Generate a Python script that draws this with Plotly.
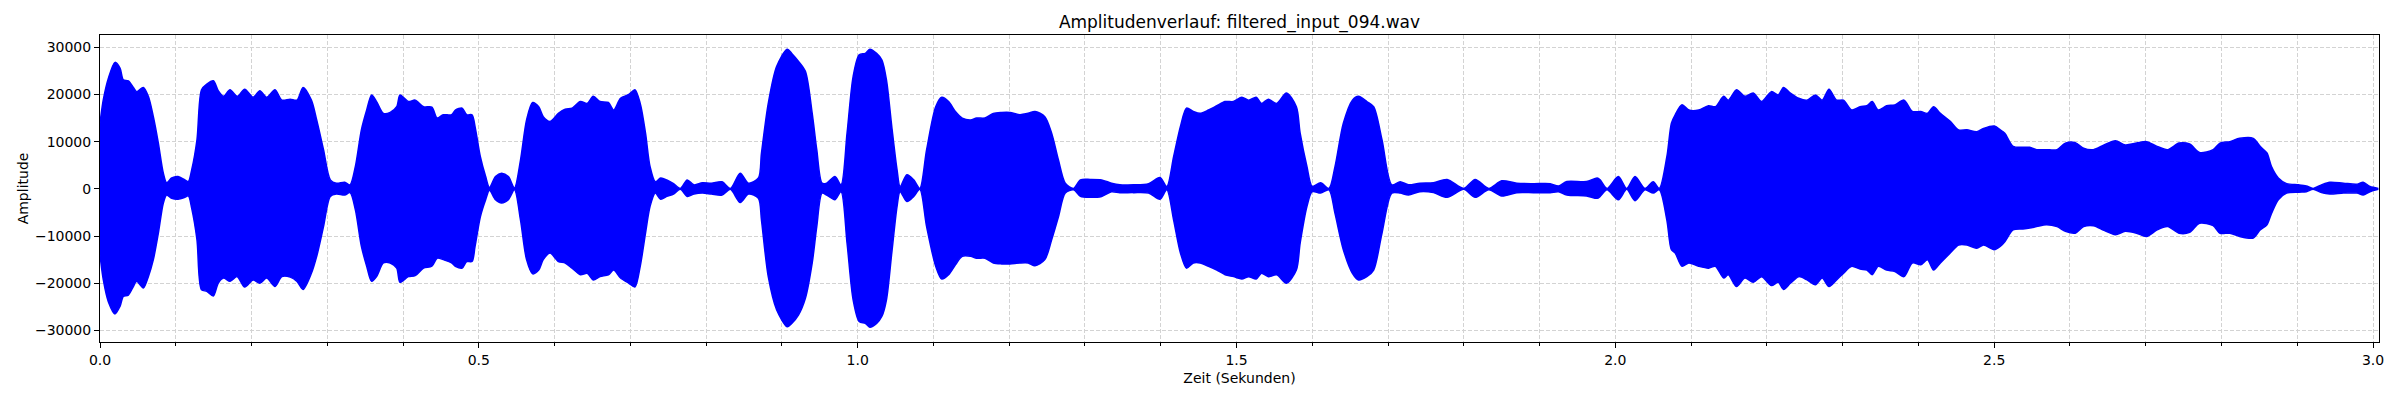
import plotly.graph_objects as go

# Huellkurve des Signals (Zeit in s, Amplitude oben / unten)
zeit_s = [
    0.000, 0.0044, 0.011, 0.0198, 0.0264, 0.0308, 0.0374, 0.044, 0.0484, 0.0572,
    0.0638, 0.0704, 0.077, 0.0836, 0.088, 0.0946, 0.103, 0.112, 0.1166, 0.121,
    0.128, 0.134, 0.141, 0.1496, 0.156, 0.163, 0.1716, 0.181, 0.191, 0.202,
    0.211, 0.220, 0.231, 0.240, 0.251, 0.260, 0.268, 0.279, 0.286, 0.295,
    0.304, 0.312, 0.323, 0.330, 0.337, 0.345, 0.352, 0.3585, 0.365, 0.374,
    0.383, 0.3916,
    0.396, 0.407, 0.416, 0.427, 0.438, 0.445, 0.453, 0.464, 0.469, 0.478,
    0.484, 0.491, 0.495, 0.502, 0.509, 0.514, 0.522, 0.530, 0.539, 0.547,
    0.555, 0.563, 0.571, 0.579, 0.585, 0.594, 0.605, 0.614, 0.623, 0.634,
    0.643, 0.651, 0.660, 0.671, 0.678, 0.687, 0.698, 0.706, 0.713, 0.720,
    0.726, 0.733, 0.740, 0.748, 0.757, 0.766, 0.775, 0.784, 0.795, 0.807,
    0.821, 0.832, 0.845, 0.856, 0.869, 0.873, 0.882, 0.893, 0.907, 0.913,
    0.922,
    0.931, 0.940, 0.946, 0.953, 0.959, 0.970, 0.978, 0.986, 0.994, 1.002,
    1.010, 1.016, 1.025, 1.032, 1.038, 1.045, 1.052, 1.056, 1.065, 1.074,
    1.082, 1.091, 1.103, 1.111, 1.120, 1.129, 1.138, 1.149, 1.157, 1.168,
    1.179, 1.190, 1.201, 1.214, 1.225, 1.234, 1.247, 1.256, 1.265, 1.274,
    1.285, 1.294, 1.307, 1.322, 1.335, 1.346, 1.364, 1.384, 1.399, 1.408,
    1.417, 1.426, 1.434, 1.443,
    1.452, 1.463, 1.474, 1.485, 1.496, 1.507, 1.516, 1.526, 1.533, 1.542,
    1.553, 1.566, 1.579, 1.584, 1.593, 1.600, 1.611, 1.622, 1.630, 1.641,
    1.653, 1.661, 1.672, 1.681, 1.692, 1.705, 1.716, 1.727, 1.742, 1.760,
    1.778, 1.800, 1.815, 1.833, 1.850, 1.870, 1.892, 1.914, 1.925, 1.936,
    1.962, 1.976,
    1.980, 1.989, 2.004, 2.015, 2.026, 2.039, 2.050, 2.058, 2.068, 2.074,
    2.079, 2.088, 2.097, 2.110, 2.123, 2.132, 2.143, 2.149, 2.160, 2.171,
    2.182, 2.193, 2.206, 2.215, 2.222, 2.231, 2.242, 2.253, 2.264, 2.273,
    2.282, 2.292, 2.301, 2.312, 2.323, 2.332, 2.339, 2.347, 2.358, 2.369,
    2.381, 2.392, 2.403, 2.412, 2.420, 2.429, 2.442, 2.453, 2.464, 2.477,
    2.486, 2.500,
    2.508, 2.514, 2.525, 2.538, 2.547, 2.556, 2.569, 2.583, 2.594, 2.607,
    2.618, 2.631, 2.645, 2.660, 2.673, 2.688, 2.701, 2.715, 2.729, 2.744,
    2.758, 2.771, 2.789, 2.798, 2.811, 2.824, 2.842, 2.851, 2.860, 2.866,
    2.875, 2.886, 2.902, 2.912, 2.921, 2.932, 2.943, 2.961, 2.979, 2.987,
    2.996, 3.007,
]

huelle_oben = [
    13900, 18900, 23400, 26800, 25600, 23100, 22900, 21500, 20600, 21500,
    19600, 15300, 9700, 3300, 1300, 2300, 2600, 1900, 1550, 4000,
    10400, 21000, 22200, 22900, 20800, 19600, 21000, 19600, 21100, 19400,
    20800, 19400, 21000, 18800, 19000, 18800, 21500, 18800, 14600, 8300,
    1900, 1200, 1400, 850, 4700, 12500, 16700, 19900, 18500, 16000,
    16200, 17400,
    19900, 18500, 18800, 17400, 17300, 15000, 15700, 15700, 16700, 17100,
    15700, 15700, 13200, 6800, 2600, 300, 2600, 3300, 2600, 200,
    6100, 14600, 18300, 17400, 15300, 14300, 16000, 16900, 17100, 18500,
    18100, 19600, 18500, 18300, 16700, 19200, 20000, 21000, 18100, 11800,
    4700, 1500, 2300, 1900, 1100, 100, 1900, 850, 1300, 1200,
    1500, 100, 3300, 1200, 2300, 7500, 18100, 25900, 29600, 28700,
    27000,
    24900, 16000, 8300, 1200, 1200, 2600, 850, 11800, 23800, 28400,
    28700, 29600, 28700, 27300, 23100, 13200, 4000, 500, 3000, 1900,
    100, 8300, 17400, 19400, 18500, 16400, 15000, 14600, 15000, 15000,
    16000, 16200, 16200, 15700, 16000, 16400, 15300, 11800, 6100, 1200,
    100, 1900, 2000, 1900, 1200, 850, 850, 1100, 2400, 500,
    6800, 13200, 17100, 16400,
    16000, 16700, 17600, 18500, 18500, 19400, 18800, 19400, 18100, 19000,
    18100, 20300, 17400, 11800, 4700, 500, 1300, 100, 4700, 13900,
    18800, 19600, 18500, 17400, 10400, 850, 1500, 850, 1200, 1300,
    2000, 100, 2000, 100, 1700, 1200, 1100, 1100, 600, 1550,
    1550, 2300,
    1900, 100, 2600, 100, 2600, 100, 1500, 100, 6800, 13900,
    15700, 17800, 16700, 16700, 17600, 17400, 19600, 18800, 21000, 19600,
    20300, 18500, 20600, 19900, 21500, 20300, 19200, 18800, 19900, 18800,
    21100, 18800, 18800, 16700, 17400, 17600, 18500, 16700, 17600, 17800,
    18800, 16400, 16400, 16000, 17400, 16000, 14300, 12500, 12500, 12100,
    12800, 13300,
    12500, 11800, 9000, 8800, 8800, 8300, 8300, 8300, 9700, 9800,
    8600, 8300, 9300, 10200, 9300, 9700, 10000, 9000, 8300, 9700,
    9500, 7700, 8300, 9700, 10000, 10700, 10700, 9000, 7600, 4700,
    2300, 1100, 850, 600, 100, 850, 1400, 1200, 1000, 1400,
    500, 100,
]

huelle_unten = [
    -14000, -19300, -23900, -26500, -24900, -22800, -22500, -20700, -19600, -21000,
    -18600, -15000, -9400, -3000, -1300, -2000, -2200, -1800, -1500, -4100,
    -10800, -21400, -21700, -22700, -20000, -18900, -19600, -18600, -20800, -19300,
    -20000, -18900, -20700, -18600, -18700, -19600, -21300, -17900, -14300, -8000,
    -1600, -1100, -1300, -800, -4400, -12200, -16400, -19600, -18600, -15700,
    -15700, -16800,
    -19800, -18600, -18400, -16800, -16400, -14700, -15000, -15700, -16400, -16800,
    -15400, -15400, -12200, -5900, -2300, -300, -2300, -3000, -2300, -200,
    -6600, -15000, -18000, -17200, -15000, -13600, -15400, -15700, -16800, -18200,
    -17900, -19300, -18600, -18200, -17200, -18900, -20000, -20800, -16400, -9400,
    -3700, -900, -2200, -1600, -1100, -100, -1600, -1100, -900, -1100,
    -1300, -100, -2900, -1100, -2000, -6600, -18600, -25600, -29200, -28500,
    -26700,
    -23200, -15700, -8000, -900, -1300, -2300, -600, -11500, -23500, -28100,
    -28500, -29300, -28500, -27000, -23500, -13600, -3700, -600, -2700, -1600,
    -100, -8000, -16400, -19100, -18200, -16100, -14300, -14300, -14700, -14700,
    -15700, -15900, -15900, -15700, -15700, -16300, -15000, -10800, -5900, -900,
    -200, -1600, -1800, -1600, -600, -800, -800, -900, -2200, -200,
    -6600, -13600, -16800, -15700,
    -15700, -16400, -17200, -18200, -18600, -19100, -18600, -19100, -17900, -18600,
    -18200, -20000, -17200, -11500, -3700, -600, -900, -200, -5200, -12900,
    -17900, -19300, -18600, -17200, -9400, -900, -900, -1300, -600, -800,
    -1800, -100, -1800, -200, -1500, -800, -800, -800, -600, -1300,
    -1500, -2000,
    -1600, -200, -2300, -100, -2500, -200, -900, -200, -6600, -12900,
    -13600, -16400, -15700, -16400, -16800, -16400, -18900, -18200, -20700, -18900,
    -19800, -18600, -20500, -19800, -21300, -20000, -18600, -19300, -20300, -18900,
    -20700, -19300, -17900, -16400, -17000, -17200, -18200, -16400, -17200, -17500,
    -18600, -15700, -16100, -15000, -17200, -15700, -13600, -11900, -11900, -12600,
    -11900, -12900,
    -12200, -11200, -8700, -8500, -8300, -8000, -7600, -8000, -9000, -9400,
    -8000, -7800, -8800, -9700, -9000, -9400, -10100, -8700, -8000, -9400,
    -9200, -7300, -7800, -9400, -9400, -10100, -10400, -8700, -7600, -5200,
    -2300, -900, -700, -600, -100, -800, -1100, -900, -900, -1300,
    -600, -100,
]

BLAU = "#0000ff"
SCHRIFT = "DejaVu Sans, sans-serif"
GRID = "#d3d3d3"

# die Seite hat 8px Rand im body, daher Figur etwas kleiner und Raender angepasst
BREITE, HOEHE = 2392, 392

fig = go.Figure()
fig.add_trace(go.Scatter(
    x=zeit_s, y=huelle_oben, mode="lines",
    line=dict(color=BLAU, width=1.5, shape="spline", smoothing=0.8),
    showlegend=False, hoverinfo="skip",
))
fig.add_trace(go.Scatter(
    x=zeit_s, y=huelle_unten, mode="lines",
    line=dict(color=BLAU, width=1.5, shape="spline", smoothing=0.8),
    fill="tonexty", fillcolor=BLAU,
    showlegend=False, hoverinfo="skip",
))

fig.update_layout(
    width=BREITE, height=HOEHE,
    paper_bgcolor="white", plot_bgcolor="white",
    margin=dict(l=92, r=21, t=27, b=58),
    font=dict(family=SCHRIFT, size=14, color="black"),
    title=dict(
        text="Amplitudenverlauf: filtered_input_094.wav",
        x=0.5, xref="paper", y=1 - 14 / HOEHE, yref="container",
        xanchor="center", yanchor="middle",
        font=dict(family=SCHRIFT, size=17, color="black"),
    ),
)

fig.update_xaxes(
    range=[0, 3.0079], tick0=0, dtick=0.5, tickformat=".1f",
    ticks="outside", ticklen=5, tickwidth=1, tickcolor="black",
    showline=True, mirror=True, linecolor="black", linewidth=1,
    showgrid=True, gridcolor=GRID, griddash="4px,2px", gridwidth=1,
    zeroline=False,
    minor=dict(dtick=0.1, tick0=0, ticks="outside", ticklen=3, tickcolor="black",
               showgrid=True, gridcolor=GRID, griddash="4px,2px", gridwidth=1),
    title=dict(text="Zeit (Sekunden)", standoff=6, font=dict(size=14)),
)
fig.update_yaxes(
    range=[-32450, 32600], tick0=0, dtick=10000, tickformat="d",
    ticks="outside", ticklen=5, tickwidth=1, tickcolor="black",
    showline=True, mirror=True, linecolor="black", linewidth=1,
    showgrid=True, gridcolor=GRID, griddash="4px,2px", gridwidth=1,
    zeroline=False,
    title=dict(text="Amplitude", standoff=3, font=dict(size=14)),
)

fig.write_html("out.html")
